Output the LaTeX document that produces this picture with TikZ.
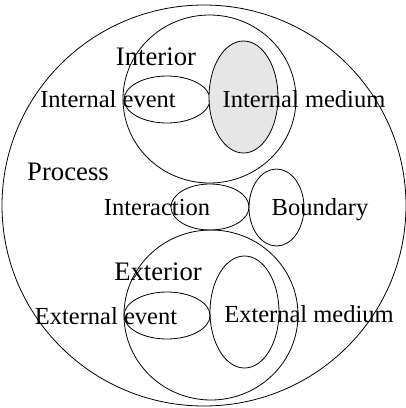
\documentclass[tikz,border=0pt]{standalone}
\usepackage{fontspec}
\setmainfont{Liberation Serif}
\usetikzlibrary{shapes.geometric}
\tikzset{
  oval/.style={draw=black, line width=0.8pt, ellipse, inner sep=0pt, outer sep=0pt},
  lbl/.style={inner sep=0pt, font=\fontsize{24.5}{26}\selectfont, anchor=center},
  biglbl/.style={lbl, font=\fontsize{26.7}{28}\selectfont},
}
\begin{document}
\begin{tikzpicture}[x=1pt,y=-1pt]
\useasboundingbox (0,0) rectangle (406,408);
% outer process circle
\node[oval, minimum width=404pt, minimum height=401pt] (process) at (204,205.5) {};
% interior
\node[oval, minimum width=173pt, minimum height=168pt] (interior) at (209.5,99) {};
\node[oval, minimum width=86pt, minimum height=47pt] (ievent) at (167,99.5) {};
\node[oval, fill={rgb,255:red,230;green,230;blue,230}, minimum width=69pt, minimum height=112pt] (imedium) at (243.5,97) {};
% interaction and boundary
\node[oval, minimum width=78pt, minimum height=46pt] (interaction) at (210,207) {};
\node[oval, minimum width=55pt, minimum height=77pt] (boundary) at (276.5,207.5) {};
% exterior
\node[oval, minimum width=174pt, minimum height=170pt] (exterior) at (211,315) {};
\node[oval, minimum width=86pt, minimum height=47pt] (eevent) at (167,315.5) {};
\node[oval, minimum width=69pt, minimum height=112pt] (emedium) at (244.5,312) {};
% labels
\node[biglbl] (tinterior) at (156,57) {Interior};
\node[lbl] (tievent) at (108,99) {Internal event};
\node[lbl] (timedium) at (304,99) {Internal medium};
\node[biglbl] (tprocess) at (68,172) {Process};
\node[lbl] (tinteraction) at (157,208) {Interaction};
\node[lbl] (tboundary) at (320,210) {Boundary};
\node[biglbl] (texterior) at (158,272) {Exterior};
\node[lbl] (teevent) at (106,316) {External event};
\node[lbl] (temedium) at (309,314) {External medium};
\end{tikzpicture}
\end{document}
